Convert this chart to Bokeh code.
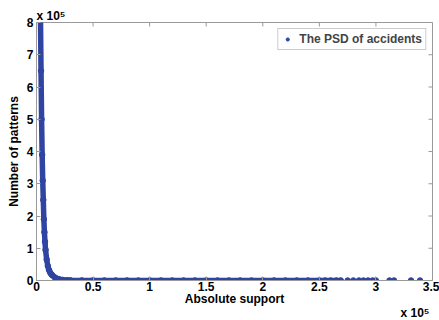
import math
from bokeh.plotting import figure
from bokeh.models import FixedTicker, Range1d, Legend, LegendItem, Title
from bokeh.embed import file_html
from bokeh.resources import INLINE

# Absolute support values and number of patterns
support = [2000, 3000, 3500, 4000, 4500, 5000, 5500, 6000, 6500, 7000, 7500, 8000,
           9000, 10000, 11000, 12000, 13000, 14000, 16000, 18000, 20000, 23000,
           27000, 30000, 40000, 50000, 60000, 70000, 80000, 90000, 100000, 110000,
           120000, 130000, 140000, 150000, 160000, 170000, 180000, 190000, 200000,
           210000, 220000, 230000, 240000, 250000, 255000, 260000, 265000, 269000]
patterns = [1400000, 1000000, 820000, 650000, 500000, 390000, 310000, 250000, 190000,
            150000, 120000, 95000, 65000, 45000, 33000, 25000, 20000, 16000, 10000,
            6000, 4000, 2000, 1000, 600, 300, 200, 150, 120, 100, 80, 60, 50, 40, 30,
            25, 20, 18, 15, 12, 10, 8, 7, 6, 5, 4, 3, 3, 2, 2, 2]
tail_support = [275000, 280000, 285000, 289000, 293000, 297000, 300000, 312000,
                316000, 331000, 339000]
tail_patterns = [1, 1, 1, 1, 1, 1, 1, 1, 1, 1, 1]

x_ticks = [0, 50000, 100000, 150000, 200000, 250000, 300000, 350000]
x_tick_labels = ["0", "0.5", "1", "1.5", "2", "2.5", "3", "3.5"]
y_ticks = [0, 100000, 200000, 300000, 400000, 500000, 600000, 700000, 800000]
y_tick_labels = ["0", "1", "2", "3", "4", "5", "6", "7", "8"]
x_max, y_max = 350000, 800000

BLUE = "#3044a2"
FONT = "Liberation Sans"
GRAY = "#9a9a9a"

p = figure(width=439, height=320, output_backend="svg", toolbar_location=None,
           x_range=Range1d(0, x_max), y_range=Range1d(0, y_max),
           min_border_left=36, min_border_right=7, min_border_top=22, min_border_bottom=40)
p.xgrid.visible = False
p.ygrid.visible = False
p.outline_line_color = GRAY

p.line(support, patterns, line_width=5.5, color=BLUE)
dots = p.scatter(support + tail_support, patterns + tail_patterns, size=5.5, color=BLUE)

# inward tick marks on the top and right edges of the box (half of each dash is clipped)
p.scatter(x_ticks, [y_max] * len(x_ticks), marker="dash", angle=math.pi / 2, size=8,
          line_color=GRAY, line_width=1)
p.scatter([x_max] * len(y_ticks), y_ticks, marker="dash", size=8,
          line_color=GRAY, line_width=1)

def style(ax, ticks, labels):
    ax.ticker = FixedTicker(ticks=ticks)
    ax.major_label_overrides = {t: l for t, l in zip(ticks, labels)}
    ax.minor_tick_line_color = None
    ax.major_tick_in = 4
    ax.major_tick_out = 0
    ax.axis_line_color = GRAY
    ax.major_tick_line_color = GRAY
    ax.major_label_standoff = 3
    ax.major_label_text_font = FONT
    ax.major_label_text_font_style = "bold"
    ax.major_label_text_font_size = "12px"
    ax.major_label_text_color = "black"
    ax.axis_label_text_font = FONT
    ax.axis_label_text_font_style = "bold"
    ax.axis_label_text_font_size = "12px"
    ax.axis_label_text_color = "black"
    ax.axis_label_standoff = 3

style(p.xaxis[0], x_ticks, x_tick_labels)
style(p.yaxis[0], y_ticks, y_tick_labels)
p.xaxis[0].axis_label = "Absolute support"
p.yaxis[0].axis_label = "Number of patterns"
p.xaxis[0].axis_label_standoff = -2
p.xaxis[0].major_label_standoff = 1

legend = Legend(items=[LegendItem(label="The PSD of accidents", renderers=[dots])],
                location="top_right")
legend.label_text_font = FONT
legend.label_text_font_style = "bold"
legend.label_text_font_size = "12px"
legend.label_height = 14
legend.glyph_height = 8
legend.glyph_width = 12
legend.padding = 3
legend.spacing = 0
legend.margin = 6
legend.label_standoff = 6
legend.border_line_color = GRAY
legend.background_fill_alpha = 1
p.add_layout(legend)

# multiplier notes
p.add_layout(Title(text="x 10\u2075", align="left", text_font=FONT, text_font_style="bold",
                   text_font_size="12px", text_color="black", standoff=0, offset=0),
             "above")
p.add_layout(Title(text="x 10\u2075", align="right", text_font=FONT, text_font_style="bold",
                   text_font_size="12px", text_color="black", standoff=-9, offset=3),
             "below")

open("out.html", "w").write(file_html(p, INLINE))
